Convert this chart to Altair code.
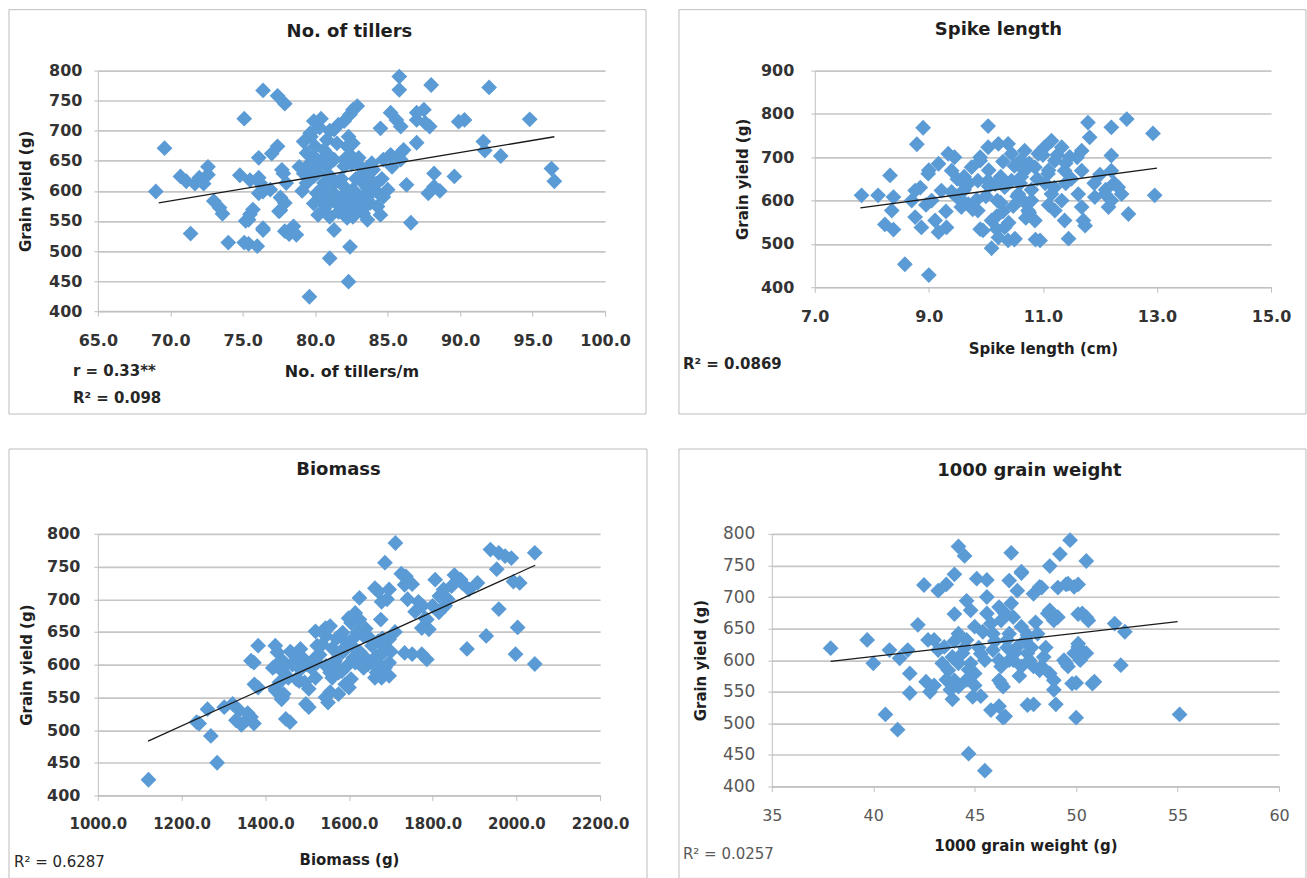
import altair as alt
import pandas as pd

BLUE = "#5B9BD5"
FONT = "DejaVu Sans"
GRID = "#C6C6C6"
AXIS = "#BFBFBF"

# ---------------- Panel 1: No. of tillers ----------------
tillers_x = [69.0, 69.6, 70.7, 71.1, 71.7, 72.0, 72.6, 72.6, 72.3, 71.4, 73.0, 73.4, 73.6, 74.0, 75.1,
             75.1, 74.8, 75.2, 75.5, 75.7, 76.0, 76.1, 76.4, 76.1, 76.4, 76.2, 76.4, 77.4, 77.9, 77.0,
             77.4, 77.7, 77.6, 77.9, 77.6, 77.9, 78.5, 78.7, 78.2, 79.6, 75.5, 76.9, 76.1, 77.8, 78.0,
             77.5, 75.4, 76.4, 75.4,
             79.9, 79.65, 80.0, 79.2, 79.4, 80.6, 80.8, 81.3, 81.6, 82.0, 82.4, 82.9, 82.6, 81.5, 82.2,
             82.6, 82.4, 82.0, 81.3, 80.8, 79.9, 80.6, 79.4, 79.2, 80.1, 80.8, 81.5, 79.9, 80.6, 81.0,
             82.0, 82.6, 83.3, 83.8, 83.1, 82.4, 82.0, 82.6, 83.3, 84.3, 84.7, 85.0, 84.0, 84.7, 85.2,
             85.9, 86.1, 82.0, 81.3, 82.4, 81.0, 82.3, 83.1, 83.9,
             80.3, 80.4, 79.8, 81.0, 81.8, 82.8, 83.5, 83.8, 84.5, 82.8, 80.3, 81.2, 81.8, 83.0, 84.0,
             83.2, 80.0, 79.6, 82.3, 83.0, 82.5, 80.2, 81.6, 84.2, 82.2, 83.6,
             80.5, 81.3, 82.1, 82.9, 83.6, 84.4, 81.0, 81.9, 82.7, 83.5, 80.2, 80.9, 79.7, 80.4, 81.0,
             84.6, 85.3, 83.4, 79.1, 78.9,
             85.8, 85.8, 85.2, 85.6, 85.9, 84.5, 87.0, 87.5, 87.6, 87.0, 88.0, 87.0, 88.2, 88.2, 87.8,
             86.3, 86.6, 85.9, 89.6, 89.9, 90.3, 91.6, 91.7, 92.0, 92.8, 94.8, 96.3, 96.5, 88.6, 87.9]
tillers_y = [599, 671, 624, 616, 612, 622, 627, 640, 612, 529, 583, 572, 562, 514, 514,
             720, 626, 550, 561, 569, 508, 655, 767, 622, 599, 613, 538, 758, 745, 662,
             674, 635, 589, 580, 568, 533, 541, 527, 528, 424, 618, 602, 596, 629, 613,
             566, 552, 535, 512,
             716, 696, 674, 682, 663, 668, 685, 702, 710, 716, 727, 741, 735, 679, 674,
             679, 660, 652, 652, 641, 624, 613, 613, 629, 596, 590, 579, 579, 568, 557,
             607, 602, 613, 618, 590, 579, 563, 557, 563, 574, 590, 602, 635, 652, 660,
             663, 668, 641, 535, 507, 488, 449, 641, 646,
             705, 650, 640, 625, 620, 620, 595, 580, 560, 585, 585, 598, 590, 570, 600,
             625, 655, 645, 690, 655, 645, 560, 565, 612, 555, 552,
             605, 612, 595, 590, 605, 595, 580, 572, 568, 575, 630, 660, 690, 720, 700,
             620, 640, 632, 600, 640,
             790, 768, 730, 718, 707, 704, 730, 735, 713, 718, 776, 680, 629, 607, 596,
             610, 547, 652, 624, 715, 718, 682, 667, 772, 658, 719, 637, 616, 600, 707]
tillers_fit_x = [69.2, 96.5]
tillers_fit_y = [580, 690]

# ---------------- Panel 2: Spike length ----------------
spike_x = [7.82, 8.11, 8.32, 8.38, 8.35, 8.23, 8.38, 8.58, 8.90, 8.79, 8.76, 8.70, 8.76, 8.87, 9.17,
           9.31, 8.99, 9.17, 9.34, 9.40, 9.57, 9.22, 9.05, 9.11, 9.00, 9.57, 9.69, 9.75, 9.90, 10.04,
           10.04, 10.22, 10.39, 10.45, 10.68, 10.04, 9.86, 10.16, 10.33, 10.45, 9.95, 10.10, 10.22, 10.39, 10.50,
           10.33, 9.86, 10.10, 9.00, 9.48, 9.62, 9.62, 9.77, 9.84, 9.62, 9.90, 10.05, 10.26, 10.05, 10.26,
           10.48, 10.19, 10.40, 10.19, 10.62, 10.76, 10.62, 10.55, 10.69, 10.76, 10.87, 11.03, 11.15, 10.92, 11.21,
           10.68, 10.86, 11.09, 11.38, 11.68, 12.20, 10.57, 10.80, 10.74, 10.86, 11.15, 11.33, 11.21, 11.62, 11.68,
           11.38, 11.71, 11.74, 11.91, 12.09, 12.20, 12.32, 12.38, 12.15, 12.50, 12.96, 10.51, 10.95, 11.45, 11.79,
           11.82, 12.20, 12.47, 12.93, 12.20, 11.68, 11.33, 11.40, 11.47, 11.10, 11.04, 11.25, 9.45, 8.85, 8.95,
           9.30, 9.50, 10.30, 10.80, 11.50, 11.90, 12.10, 12.25, 12.00,
           9.70, 10.00, 10.20, 10.60, 10.90, 11.20, 11.40, 11.60, 11.00, 10.50, 9.90, 10.30, 11.10, 10.70, 9.40]
spike_y = [612, 612, 658, 608, 577, 545, 533, 453, 768, 730, 623, 600, 562, 538, 527,
           538, 662, 685, 708, 669, 646, 623, 600, 554, 428, 585, 592, 677, 692, 772,
           723, 731, 731, 708, 715, 646, 646, 638, 631, 646, 531, 490, 515, 508, 510,
           538, 577, 554, 670, 610, 625, 595, 580, 602, 655, 534, 670, 655, 633, 595,
           587, 564, 549, 534, 693, 686, 655, 610, 595, 572, 510, 723, 738, 708, 692,
           669, 677, 662, 669, 669, 669, 615, 600, 577, 554, 615, 600, 577, 615, 585,
           554, 554, 542, 608, 615, 600, 631, 615, 585, 569, 612, 512, 508, 512, 780,
           746, 769, 788, 755, 704, 715, 723, 686, 701, 670, 640, 705, 700, 630, 590,
           575, 650, 690, 625, 650, 640, 625, 640, 660,
           640, 610, 600, 640, 650, 630, 640, 700, 705, 680, 700, 575, 590, 560, 620]
spike_fit_x = [7.8, 13.0]
spike_fit_y = [583, 675]

# ---------------- Panel 3: Biomass ----------------
biomass_x = [1121, 1285, 1270, 1242, 1262, 1236, 1302, 1322, 1338, 1354, 1330, 1366, 1343, 1373, 1358,
             1383, 1373, 1383, 1424, 1429, 1439, 1424, 1444, 1434, 1424, 1444, 1439, 1459, 1474, 1484,
             1474, 1494, 1504, 1484, 1504, 1524, 1545, 1555, 1524, 1545, 1565, 1555, 1550, 1555, 1585,
             1605, 1615, 1625, 1595, 1615, 1635, 1585, 1595, 1575, 1605, 1600, 1615, 1625, 1655, 1666,
             1686, 1696, 1676, 1686, 1666, 1696, 1696, 1686, 1711, 1691, 1696, 1676, 1736, 1751, 1751,
             1786, 1776, 1786, 1791, 1806, 1816, 1826, 1836, 1852, 1867, 1887, 1907, 1882, 1928, 1938,
             1958, 1973, 1988, 1953, 1958, 2008, 2003, 1998, 2044, 2044, 1725, 1733, 1670, 1678, 1766,
             1758, 1782, 1774, 1993, 1733, 1774, 1670, 1686, 1670, 1686, 1678, 1418, 1441, 1425, 1441,
             1481, 1497, 1520, 1544, 1536, 1520, 1567, 1583, 1591, 1544, 1575, 1599, 1662, 1646, 1662,
             1366, 1374, 1449, 1530, 1510, 1560, 1640, 1650, 1610, 1625, 1635, 1570, 1455, 1465, 1800,
             1815, 1845, 1870,
             1460, 1490, 1520, 1580, 1610, 1640, 1660, 1700, 1560, 1500, 1450, 1620, 1680, 1710, 1740, 1830]
biomass_y = [424, 450, 491, 510, 532, 512, 535, 540, 530, 515, 515, 520, 508, 510, 526,
             629, 603, 565, 629, 619, 603, 598, 588, 573, 563, 555, 547, 512, 608, 593,
             578, 573, 563, 624, 535, 629, 644, 659, 603, 598, 603, 588, 542, 558, 649,
             664, 679, 669, 634, 624, 644, 619, 598, 588, 578, 565, 603, 702, 629, 613,
             624, 639, 598, 588, 588, 603, 583, 756, 786, 700, 715, 669, 735, 723, 616,
             608, 690, 669, 654, 730, 705, 715, 700, 737, 730, 715, 725, 624, 644, 776,
             771, 766, 763, 746, 685, 725, 657, 616, 771, 601, 739, 722, 712, 696, 696,
             681, 671, 656, 727, 618, 616, 636, 621, 611, 595, 580, 595, 606, 560, 550,
             575, 540, 651, 656, 631, 611, 606, 590, 570, 550, 555, 671, 717, 601, 580,
             606, 570, 517, 615, 595, 625, 655, 640, 640, 620, 595, 640, 580, 600, 690,
             680, 720, 725,
             620, 610, 580, 620, 610, 610, 600, 620, 580, 600, 600, 650, 640, 650, 700, 690]
biomass_fit_x = [1120, 2045]
biomass_fit_y = [483, 752]

# ---------------- Panel 4: 1000 grain weight ----------------
tgw_x = [37.9, 39.7, 40.0, 40.6, 41.2, 40.8, 41.3, 41.8, 41.8, 41.7, 42.2, 42.5, 42.6, 42.8, 43.0,
         43.2, 43.4, 43.6, 43.8, 43.9, 43.2, 43.6, 44.0, 44.2, 44.5, 44.0, 44.6, 44.8, 44.2, 44.6,
         44.4, 44.8, 44.2, 45.0, 44.6, 45.0, 44.7, 45.5, 45.3, 45.6, 45.9, 46.3, 45.9, 46.3, 46.4,
         46.2, 46.4, 46.8, 46.7, 47.3, 47.1, 46.9, 46.7, 47.3, 47.5, 46.9, 47.3, 47.7, 47.9, 47.9,
         48.3, 48.1, 48.3, 48.7, 48.9, 47.9, 49.0, 48.7, 49.2, 49.7, 49.1, 49.5, 50.1, 48.7, 49.1,
         49.5, 49.9, 50.1, 50.2, 50.5, 50.1, 50.5, 50.5, 50.0, 50.0, 50.9, 51.9, 52.4, 52.2, 55.1,
         43.5, 43.9, 43.7, 44.0, 44.2, 44.9, 44.7, 45.8, 45.6, 45.8, 46.2, 46.5, 48.6, 48.9, 50.3,
         50.6, 46.6, 47.1, 47.6, 48.2, 46.7, 48.9, 49.4, 50.1, 49.6, 46.2, 46.3, 49.8, 50.8, 47.6,
         46.5, 48.2, 49.9, 49.6, 47.3, 45.2, 45.5, 46.0, 45.4, 47.0, 47.8, 48.4, 42.7, 43.0, 45.1,
         44.5, 45.3, 46.6, 47.6, 48.0, 46.2, 45.0, 47.2, 48.5, 44.0, 46.8, 45.6]
tgw_y = [619, 632, 595, 514, 490, 616, 603, 579, 548, 616, 656, 719, 566, 550, 632,
         616, 595, 569, 553, 538, 710, 720, 736, 780, 765, 673, 694, 679, 642, 632,
         611, 595, 595, 579, 569, 653, 452, 425, 543, 727, 642, 663, 616, 590, 558,
         527, 509, 770, 726, 738, 710, 668, 642, 653, 632, 600, 590, 600, 590, 705,
         715, 642, 590, 579, 553, 530, 530, 749, 768, 790, 715, 720, 720, 679, 668,
         595, 611, 626, 600, 611, 673, 668, 757, 564, 509, 566, 658, 645, 592, 514,
         621, 605, 584, 568, 558, 542, 585, 521, 674, 658, 684, 674, 674, 663, 674,
         663, 632, 621, 611, 584, 600, 568, 600, 621, 590, 568, 563, 563, 563, 529,
         511, 716, 716, 721, 740, 620, 600, 630, 645, 612, 620, 605, 632, 560, 729,
         620, 610, 620, 640, 660, 600, 560, 575, 620, 630, 690, 700]
tgw_fit_x = [37.9, 55.0]
tgw_fit_y = [598, 661]


def panel(px, py, fx, fy, s):
    df = pd.DataFrame({
        "x": list(px) + list(fx),
        "y": list(py) + list(fy),
        "kind": ["pt"] * len(px) + ["fit"] * len(fx),
    })
    xaxis = alt.Axis(
        values=s["xvals"], format=s["xfmt"], grid=False,
        title=s["xtitle"], titleY=s["xtitle_y"], titleBaseline="middle",
        titleFont=FONT, titleFontSize=s["xtitle_size"], titleFontWeight="bold", titleColor="#1f1f1f",
        labelFont=FONT, labelFontSize=s["lab_size"], labelFontWeight=s["lab_weight"],
        labelColor=s["lab_color"], labelPadding=16, labelFlush=False, labelOverlap=False,
        tickSize=5, tickColor=AXIS, domainColor=AXIS, domainWidth=1,
    )
    yaxis = alt.Axis(
        values=s["yvals"], format="d", grid=True, gridColor=GRID, gridWidth=1.7,
        title="Grain yield (g)", titleX=s["ytitle_x"], titleBaseline="middle",
        titleFont=FONT, titleFontSize=15, titleFontWeight="bold", titleColor="#1f1f1f",
        labelFont=FONT, labelFontSize=s["ylab_size"], labelFontWeight=s["lab_weight"],
        labelColor=s["lab_color"], labelPadding=s["ylabpad"], labelFlush=False, labelOverlap=False,
        tickSize=4, tickColor=AXIS, domainColor=AXIS, domainWidth=1,
    )
    base = alt.Chart(df).encode(
        x=alt.X("x:Q", scale=alt.Scale(domain=s["xdom"], nice=False, zero=False), axis=xaxis),
        y=alt.Y("y:Q", scale=alt.Scale(domain=s["ydom"], nice=False, zero=False), axis=yaxis),
    )
    pts = base.transform_filter("datum.kind == 'pt'").mark_point(
        shape="diamond", filled=True, size=250, color=BLUE, opacity=1)
    fit = base.transform_filter("datum.kind == 'fit'").mark_line(
        color="#1a1a1a", strokeWidth=1.3)

    one = pd.DataFrame({"a": [0]})
    bx1, bx2, by1, by2 = s["box"]
    box = alt.Chart(one).mark_rect(fillOpacity=0, stroke="#BDBDBD", strokeWidth=1).encode(
        x=alt.value(bx1), x2=alt.value(bx2), y=alt.value(by1), y2=alt.value(by2))
    ttext, tx, ty = s["title"]
    title = alt.Chart(one).mark_text(
        text=ttext, font=FONT, fontSize=18, fontWeight="bold", color="#1f1f1f",
        align="center", baseline="middle").encode(x=alt.value(tx), y=alt.value(ty))
    layers = [box, pts, fit, title]
    for ntext, nx, ny in s["notes"]:
        layers.append(alt.Chart(one).mark_text(
            text=ntext, font=FONT, fontSize=15, fontWeight=s["note_weight"], color=s["note_color"],
            align="left", baseline="middle").encode(x=alt.value(nx), y=alt.value(ny)))
    return alt.layer(*layers).properties(width=s["w"], height=s["h"])


p1 = panel(tillers_x, tillers_y, tillers_fit_x, tillers_fit_y, dict(
    xdom=[65, 100], xvals=[65, 70, 75, 80, 85, 90, 95, 100], xfmt=".1f",
    ydom=[400, 800], yvals=list(range(400, 801, 50)),
    w=508, h=241, box=(-89, 549, -61, 344), title=("No. of tillers", 252, -39),
    xtitle="No. of tillers/m", xtitle_y=60, xtitle_size=16, ytitle_x=-72,
    lab_size=16, ylab_size=16, lab_weight="bold", lab_color="#333333", ylabpad=12,
    notes=[("r = 0.33**", -25, 301), ("R² = 0.098", -25, 328)],
    note_weight="bold", note_color="#262626"))

p2 = panel(spike_x, spike_y, spike_fit_x, spike_fit_y, dict(
    xdom=[7, 15], xvals=[7, 9, 11, 13, 15], xfmt=".1f",
    ydom=[400, 900], yvals=list(range(400, 901, 100)),
    w=457, h=217, box=(-136, 492, -61, 344), title=("Spike length", 184, -41),
    xtitle="Spike length (cm)", xtitle_y=61, xtitle_size=15, ytitle_x=-72,
    lab_size=16, ylab_size=16, lab_weight="bold", lab_color="#333333", ylabpad=17,
    notes=[("R² = 0.0869", -132, 294)],
    note_weight="bold", note_color="#262626"))

p3 = panel(biomass_x, biomass_y, biomass_fit_x, biomass_fit_y, dict(
    xdom=[1000, 2200], xvals=list(range(1000, 2201, 200)), xfmt=".1f",
    ydom=[400, 800], yvals=list(range(400, 801, 50)),
    w=503, h=262, box=(-89, 550, -85, 345), title=("Biomass", 241, -64),
    xtitle="Biomass (g)", xtitle_y=64, xtitle_size=15, ytitle_x=-71,
    lab_size=15, ylab_size=16, lab_weight="bold", lab_color="#333333", ylabpad=14,
    notes=[("R² = 0.6287", -84, 329)],
    note_weight="normal", note_color="#262626"))

p4 = panel(tgw_x, tgw_y, tgw_fit_x, tgw_fit_y, dict(
    xdom=[35, 60], xvals=[35, 40, 45, 50, 55, 60], xfmt="d",
    ydom=[400, 800], yvals=list(range(400, 801, 50)),
    w=508, h=253, box=(-93, 535, -85, 345), title=("1000 grain weight", 258, -63),
    xtitle="1000 grain weight (g)", xtitle_y=59, xtitle_size=15, ytitle_x=-71,
    lab_size=16, ylab_size=17, lab_weight="normal", lab_color="#595959", ylabpad=13,
    notes=[("R² = 0.0257", -89, 321)],
    note_weight="normal", note_color="#595959"))

row1 = alt.hconcat(p1, p2, spacing=31)
row2 = alt.hconcat(p3, p4, spacing=30)
chart = alt.vconcat(row1, row2, spacing=33).properties(
    padding={"left": 8, "top": 8, "right": 0, "bottom": 0},
    background="white",
).configure_view(stroke=None)

chart.save("out.html", embed_options={"renderer": "svg", "actions": False})
